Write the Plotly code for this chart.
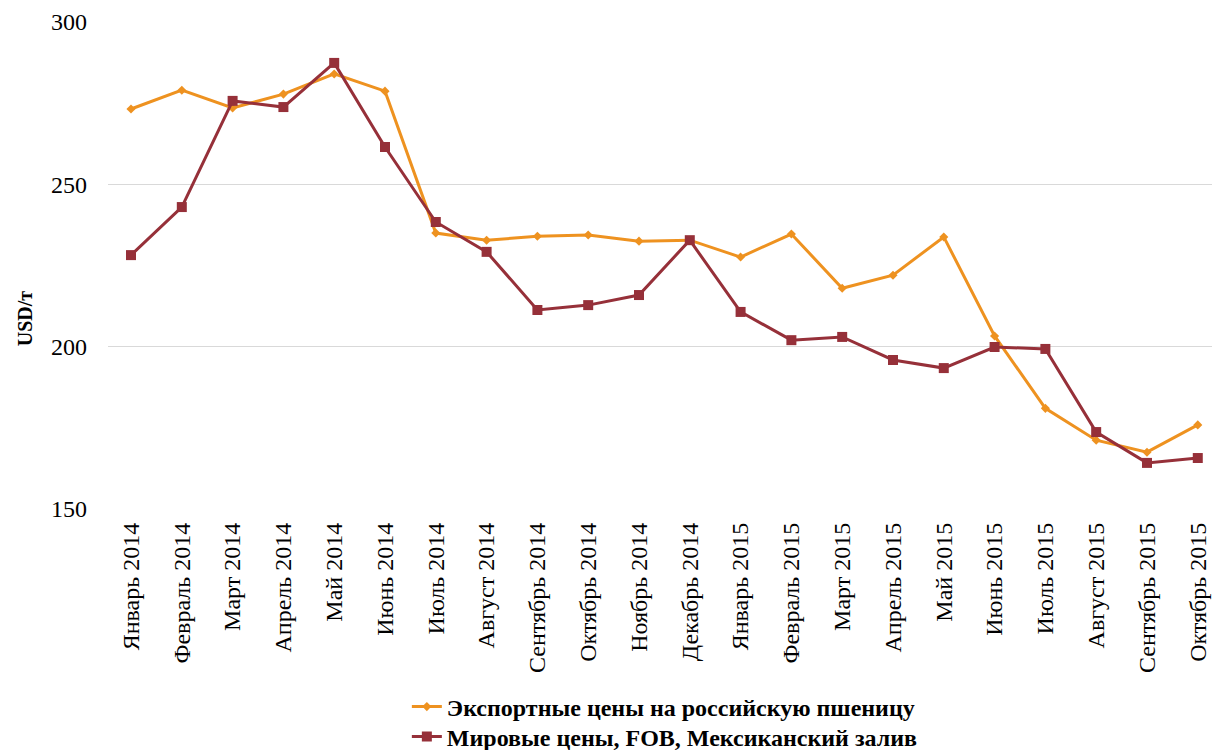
import plotly.graph_objects as go

months = ["Январь 2014", "Февраль 2014", "Март 2014", "Апрель 2014", "Май 2014",
          "Июнь 2014", "Июль 2014", "Август 2014", "Сентябрь 2014", "Октябрь 2014",
          "Ноябрь 2014", "Декабрь 2014", "Январь 2015", "Февраль 2015", "Март 2015",
          "Апрель 2015", "Май 2015", "Июнь 2015", "Июль 2015", "Август 2015",
          "Сентябрь 2015", "Октябрь 2015"]

russian_export = [273.2, 279.0, 273.5, 277.8, 284.0, 278.7, 235.0, 232.8, 234.0, 234.4,
                  232.5, 232.8, 227.6, 234.7, 218.0, 222.0, 233.8, 203.3, 181.0, 171.2,
                  167.5, 175.9]

world_fob = [228.2, 243.0, 275.7, 273.8, 287.4, 261.5, 238.4, 229.2, 211.3, 212.8,
             215.9, 232.8, 210.7, 202.0, 203.0, 195.9, 193.4, 199.9, 199.3, 173.7,
             164.2, 165.7]

y_ticks = [150, 200, 250, 300]

x_idx = list(range(len(months)))
font_family = "Liberation Serif, Times New Roman, serif"

fig = go.Figure()
fig.add_trace(go.Scatter(
    x=x_idx, y=russian_export, mode="lines+markers",
    name="<b>Экспортные цены на российскую пшеницу</b>",
    line=dict(color="#EE9220", width=3),
    marker=dict(symbol="diamond", size=7, color="#EE9220"),
    legend="legend",
))
fig.add_trace(go.Scatter(
    x=x_idx, y=world_fob, mode="lines+markers",
    name="<b>Мировые цены, FOB, Мексиканский залив</b>",
    line=dict(color="#963039", width=3),
    marker=dict(symbol="square", size=10, color="#963039"),
    legend="legend2",
))

legend_font = dict(size=24, family=font_family, color="black")
legend_x = 0.2707

fig.update_layout(
    width=1212, height=750,
    margin=dict(l=108, r=0, t=22, b=241, autoexpand=False),
    plot_bgcolor="white", paper_bgcolor="white",
    font=dict(family=font_family, color="black"),
    xaxis=dict(
        tickmode="array", tickvals=x_idx, ticktext=months,
        range=[-0.453, 21.28], tickangle=-90,
        tickfont=dict(size=24, family=font_family),
        showgrid=False, zeroline=False, showline=False, ticks="",
        ticklabelstandoff=8, automargin=False,
    ),
    yaxis=dict(
        range=[150, 300], tickvals=y_ticks,
        tickfont=dict(size=24, family=font_family),
        showgrid=True, gridcolor="#D9D9D9", gridwidth=1,
        zeroline=False, showline=False, ticks="", ticklabelstandoff=20,
        automargin=False,
    ),
    legend=dict(
        x=legend_x, xanchor="left", y=(509 - 707) / 487, yanchor="middle",
        font=legend_font, itemwidth=30, bgcolor="rgba(0,0,0,0)",
    ),
    legend2=dict(
        x=legend_x, xanchor="left", y=(509 - 737) / 487, yanchor="middle",
        font=legend_font, itemwidth=30, bgcolor="rgba(0,0,0,0)",
    ),
    showlegend=True,
    annotations=[dict(
        text="<b>USD/т</b>", xref="paper", yref="paper",
        x=-0.075, y=(509 - 318) / 487, xanchor="center", yanchor="middle",
        textangle=-90, showarrow=False,
        font=dict(size=20, family=font_family, color="black"),
    )],
)

fig.write_html("out.html")
